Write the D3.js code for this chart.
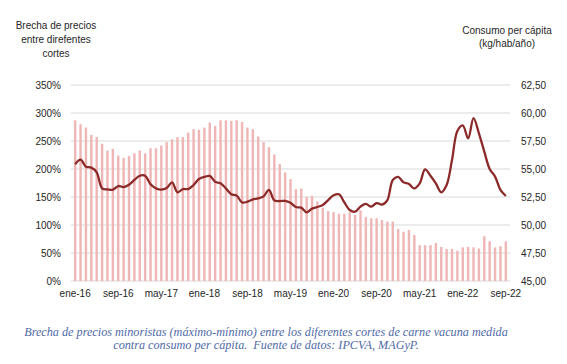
<!DOCTYPE html>
<html>
<head>
<meta charset="utf-8">
<script src="https://cdn.jsdelivr.net/npm/d3@7"></script>
<style>
  body { margin: 0; background: #fff; }
  svg text { font-family: "Liberation Sans", Arial, sans-serif; fill: #262626; }
</style>
</head>
<body>
<div id="chart"></div>
<script>
// monthly categories ene-16 .. sep-22
var mesNombres = ["ene","feb","mar","abr","may","jun","jul","ago","sep","oct","nov","dic"];
var meses = [];
for (var a = 16; a <= 22; a++) {
    mesNombres.forEach(function(m, k) {
        if (a < 22 || k <= 8) meses.push(m + "-" + a);
    });
}

// brecha de precios (%) - bars, left axis
var brecha = [287, 280, 274, 261, 257, 245, 233, 236, 224, 220,
              223, 228, 233, 228, 237, 237, 242, 248, 253, 257,
              257, 265, 271, 270, 274, 283, 277, 287, 287, 286,
              287, 284, 274, 271, 258, 248, 239, 226, 209, 194,
              182, 164, 165, 150, 152, 142, 131, 125, 123, 120,
              120, 123, 118, 126, 114, 112, 112, 109, 106, 106,
              93, 88, 91, 82, 64, 64, 64, 68, 61, 57,
              57, 54, 60, 61, 60, 58, 80, 71, 60, 62,
              71];

// consumo per capita (kg/hab/año) - line, right axis
var consumo = [55.42, 55.83, 55.21, 55.12, 54.70, 53.27, 53.18, 53.15, 53.48, 53.39,
               53.60, 54.02, 54.40, 54.40, 53.63, 53.27, 53.15, 53.30, 53.81, 52.92,
               53.21, 53.21, 53.57, 54.11, 54.29, 54.38, 53.87, 53.72, 53.27, 52.74,
               52.62, 52.02, 52.08, 52.29, 52.38, 52.56, 53.13, 52.20, 52.14, 52.15,
               51.98, 51.61, 51.55, 51.13, 51.46, 51.61, 51.79, 52.23, 52.65, 52.74,
               52.02, 51.34, 51.19, 51.64, 51.88, 51.64, 51.96, 51.82, 52.23, 54.02,
               54.29, 53.81, 53.66, 53.27, 53.72, 54.97, 54.40, 53.72, 52.92, 53.57,
               55.80, 58.40, 58.90, 57.74, 59.55, 58.18, 56.55, 55.00, 54.32, 53.13,
               52.59];

var ticksIzq = [0, 50, 100, 150, 200, 250, 300, 350];
var ticksDer = [45, 47.5, 50, 52.5, 55, 57.5, 60, 62.5];

var W = 567, H = 364;
var margin = {top: 85, right: 57, bottom: 83, left: 71},
    width = W - margin.left - margin.right,
    height = H - margin.top - margin.bottom;

var svg = d3.select("#chart").append("svg")
    .attr("width", W)
    .attr("height", H);

var g = svg.append("g")
    .attr("transform", "translate(" + margin.left + "," + margin.top + ")");

var x = d3.scaleBand()
    .domain(meses)
    .range([0, width])
    .padding(0.55);

var yIzq = d3.scaleLinear().domain([0, 350]).range([height, 0]);
var yDer = d3.scaleLinear().domain([45, 62.5]).range([height, 0]);

// gridlines
g.selectAll(".grid")
    .data(ticksIzq)
    .enter().append("line")
    .attr("x1", 0)
    .attr("x2", width)
    .attr("y1", d => yIzq(d))
    .attr("y2", d => yIzq(d))
    .attr("stroke", "#d9d9d9")
    .attr("stroke-width", 1);

// bars
g.selectAll(".bar")
    .data(brecha)
    .enter().append("rect")
    .attr("x", (d, i) => x(meses[i]))
    .attr("y", d => yIzq(d))
    .attr("width", x.bandwidth())
    .attr("height", d => height - yIzq(d))
    .attr("fill", "#efb6b6");

// line
var linea = d3.line()
    .x((d, i) => x(meses[i]) + x.bandwidth() / 2)
    .y(d => yDer(d))
    .curve(d3.curveCatmullRom);

g.append("path")
    .datum(consumo)
    .attr("d", linea)
    .attr("fill", "none")
    .attr("stroke", "#8c2a2a")
    .attr("stroke-width", 2.3);

// axes
var fmtPct = d => d + "%";
var fmtKg = d => d3.format(".2f")(d).replace(".", ",");

var ejeIzq = g.append("g")
    .call(d3.axisLeft(yIzq).tickValues(ticksIzq).tickFormat(fmtPct).tickSize(0).tickPadding(10));
var ejeDer = g.append("g")
    .attr("transform", "translate(" + width + ",0)")
    .call(d3.axisRight(yDer).tickValues(ticksDer).tickFormat(fmtKg).tickSize(0).tickPadding(11));
var ejeX = g.append("g")
    .attr("transform", "translate(0," + height + ")")
    .call(d3.axisBottom(x).tickValues(meses.filter((m, i) => i % 8 === 0)).tickSize(0).tickPadding(9));

[ejeIzq, ejeDer, ejeX].forEach(function(e) {
    e.select(".domain").remove();
    e.selectAll("text").style("font-size", "10px").style("fill", "#262626");
});

// axis titles
svg.append("text")
    .attr("x", 56).attr("y", 29)
    .attr("text-anchor", "middle")
    .style("font-size", "10px")
    .selectAll("tspan")
    .data(["Brecha de precios", "entre direfentes", "cortes"])
    .enter().append("tspan")
    .attr("x", 56)
    .attr("dy", (d, i) => i === 0 ? 0 : 14)
    .text(d => d);

svg.append("text")
    .attr("x", 507).attr("y", 34)
    .attr("text-anchor", "middle")
    .style("font-size", "10px")
    .selectAll("tspan")
    .data(["Consumo per cápita", "(kg/hab/año)"])
    .enter().append("tspan")
    .attr("x", 507)
    .attr("dy", (d, i) => i === 0 ? 0 : 13)
    .text(d => d);

// caption
svg.append("text")
    .attr("text-anchor", "middle")
    .style("font-family", "'Liberation Serif', serif")
    .style("font-style", "italic")
    .style("font-size", "12.2px")
    .style("white-space", "pre")
    .selectAll("tspan")
    .data(["Brecha de precios minoristas (máximo-mínimo) entre los diferentes cortes de carne vacuna medida",
           "contra consumo per cápita.  Fuente de datos: IPCVA, MAGyP."])
    .enter().append("tspan")
    .attr("x", 266)
    .attr("y", (d, i) => 336 + i * 12.5)
    .style("fill", "#4f6aa6")
    .text(d => d);
</script>
</body>
</html>
